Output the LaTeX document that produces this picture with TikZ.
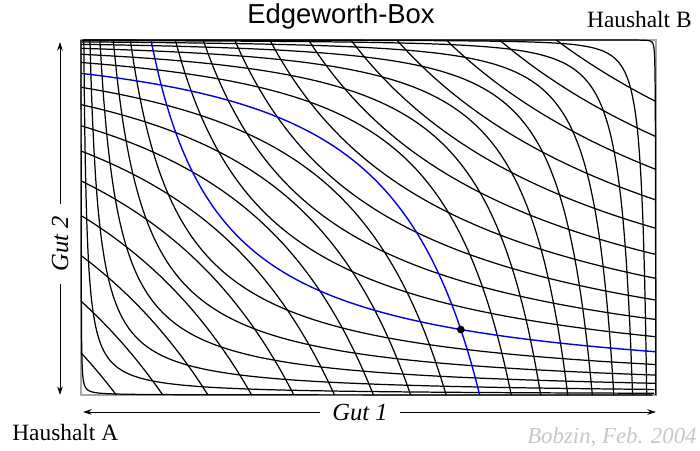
\documentclass[tikz,border=0pt]{standalone}
\usepackage{fontspec}
\setmainfont{Liberation Serif}
\newfontfamily\titelschrift{Liberation Sans}
\usepackage{tikz}
\usetikzlibrary{arrows.meta, intersections}

\begin{document}
\begin{tikzpicture}[x=0.02cm, y=-0.02cm,
  indiff/.style={line width=0.7pt, black},
  indiffblau/.style={line width=0.8pt, blue!90!black},
  pfeil/.style={-{Stealth[length=5pt, width=3.2pt]}, line width=0.5pt},
  beschr/.style={inner sep=0pt, font=\fontsize{13.3}{16}\selectfont}]

\useasboundingbox (0,0) rectangle (700,450);

\coordinate (ursprungA) at (81,395);
\coordinate (ursprungB) at (656,40);

\node[font=\titelschrift\fontsize{15.6}{18}\selectfont] (titel) at (341,16) {Edgeworth-Box};
\node[beschr, anchor=east] (hhB) at (692,20) {Haushalt B};
\node[beschr, anchor=west] (hhA) at (12,433) {Haushalt A};
\node[beschr, anchor=east, text=black!22, font=\itshape\fontsize{13}{16}\selectfont] (quelle) at (697,437) {Bobzin, Feb. 2004};

\draw[gray!70, line width=1pt] (ursprungA) rectangle (ursprungB);

% Haushalt A: u*v = U^2
\foreach \U in {0.013,0.069,0.125,0.181,0.237,0.293,0.405,0.461,0.517,0.573,0.629,0.685,0.741,0.797,0.853,0.909}
  \draw[indiff] plot[domain=0:1, samples=80, variable=\t] ({81+575*exp(2*(1-\t)*ln(\U))}, {395-355*exp(2*\t*ln(\U))});

% Haushalt B: u^2*v = U^3
\foreach \U in {0.0066,0.0626,0.1186,0.1746,0.2306,0.2866,0.3426,0.3986,0.5106,0.5666,0.6226,0.6786,0.7346,0.7906,0.8466,0.9026,0.9586}
  \draw[indiff] plot[domain=0:1, samples=80, variable=\t] ({656-575*exp(1.5*(1-\t)*ln(\U))}, {40+355*exp(3*\t*ln(\U))});

\draw[indiffblau, name path=blauA] plot[domain=0:1, samples=80, variable=\t] ({81+575*exp(2*(1-\t)*ln(0.349))}, {395-355*exp(2*\t*ln(0.349))});
\draw[indiffblau, name path=blauB] plot[domain=0:1, samples=80, variable=\t] ({656-575*exp(1.5*(1-\t)*ln(0.4546))}, {40+355*exp(3*\t*ln(0.4546))});

\path[name intersections={of=blauA and blauB, by={linse, ausstattung}}];
\fill (ausstattung) circle[radius=2.2pt];

\node[font=\itshape\fontsize{14}{16}\selectfont, inner xsep=7pt] (gut1) at (360,412) {Gut 1};
\coordinate (gut1links) at (83,412);
\coordinate (gut1rechts) at (656,412);
\draw[pfeil] (gut1.west) -- (gut1links);
\draw[pfeil] (gut1.east) -- (gut1rechts);

\node[rotate=90, font=\itshape\fontsize{14}{16}\selectfont, inner xsep=7pt] (gut2) at (60,244) {Gut 2};
\coordinate (gut2oben) at (60,42);
\coordinate (gut2unten) at (60,395);
\draw[pfeil] (gut2.east) -- (gut2oben);
\draw[pfeil] (gut2.west) -- (gut2unten);

\end{tikzpicture}
\end{document}
